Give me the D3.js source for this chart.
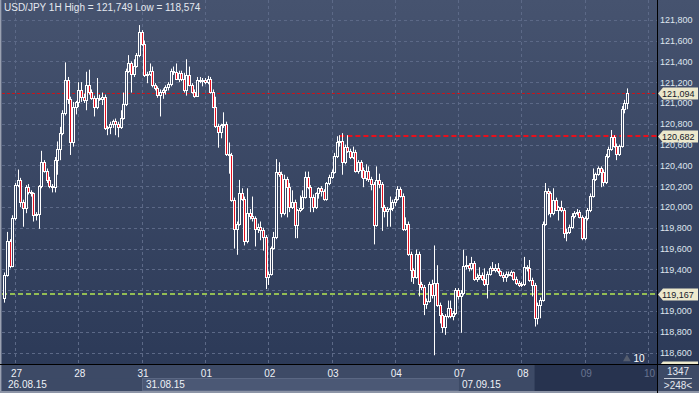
<!DOCTYPE html>
<html>
<head>
<meta charset="utf-8">
<script src="https://cdn.jsdelivr.net/npm/d3@7"></script>
<style>
  html, body { margin: 0; padding: 0; background: #2c3957; overflow: hidden; }
  svg { display: block; font-family: "Liberation Sans", Arial, sans-serif; }
</style>
</head>
<body>
<svg id="chart"></svg>
<script>
// ---- data ----
const symbol = 'USD/JPY';
const timeframe = '1H';
const rangeHigh = 121.749;
const rangeLow = 118.574;

// hour index of the first bar, counted from 27.08 00:00 (24 bars per trading day)
const firstBarHour = -4;

// hourly bars: [open, high, low, close]
const ohlc = [
  // 26.08 (last hours)
  [119.12,119.37,119.08,119.35],[119.35,119.76,119.33,119.67],[119.67,119.69,119.41,119.43],[119.43,119.92,119.42,119.89],
  // 27
  [119.89,120.23,119.87,120.21],[120.21,120.36,120.19,120.26],[120.26,120.28,120.00,120.05],[120.05,120.07,119.81,119.99],
  [119.99,120.21,119.94,120.19],[120.19,120.22,120.12,120.14],[120.14,120.16,120.10,120.13],[120.13,120.14,119.86,119.92],
  [119.92,119.95,119.87,119.93],[119.93,120.21,119.79,120.20],[120.20,120.54,120.18,120.43],[120.43,120.45,120.33,120.35],
  [120.35,120.37,120.23,120.26],[120.26,120.29,120.18,120.20],[120.20,120.22,120.14,120.19],[120.19,120.48,120.14,120.45],
  [120.45,120.63,120.31,120.56],[120.56,120.77,120.45,120.71],[120.71,120.93,120.69,120.90],[120.90,121.39,120.88,121.22],
  [121.22,121.25,120.99,121.04],[121.04,121.06,120.50,120.62],[120.62,121.01,120.58,120.96],[120.96,121.02,120.89,121.01],
  // 28
  [121.01,121.20,120.96,121.12],[121.12,121.20,121.01,121.06],[121.06,121.09,121.00,121.03],[121.03,121.30,120.93,121.17],
  [121.17,121.32,121.08,121.11],[121.11,121.13,121.03,121.05],[121.05,121.07,120.87,120.96],[120.96,121.24,120.94,121.05],
  [121.05,121.08,121.02,121.04],[121.04,121.10,120.98,121.06],[121.06,121.08,120.74,120.76],[120.76,120.78,120.69,120.77],
  [120.77,120.82,120.70,120.80],[120.80,120.84,120.76,120.83],[120.83,120.85,120.69,120.80],[120.80,120.82,120.67,120.77],
  [120.77,120.93,120.75,120.86],[120.86,121.10,120.84,120.99],[120.99,121.33,120.97,121.31],[121.31,121.46,121.29,121.38],
  [121.38,121.40,121.10,121.28],[121.28,121.42,121.25,121.36],[121.36,121.48,121.34,121.46],[121.46,121.749,121.44,121.68],
  // 31
  [121.68,121.70,121.55,121.57],[121.57,121.60,121.25,121.27],[121.27,121.30,121.19,121.28],[121.28,121.38,121.26,121.31],
  [121.31,121.35,121.15,121.17],[121.17,121.19,121.12,121.14],[121.14,121.16,121.05,121.08],[121.08,121.13,120.87,121.11],
  [121.11,121.14,121.04,121.12],[121.12,121.17,121.08,121.15],[121.15,121.20,121.12,121.18],[121.18,121.33,121.16,121.31],
  [121.31,121.35,121.27,121.30],[121.30,121.38,121.22,121.23],[121.23,121.31,121.20,121.29],[121.29,121.31,121.21,121.23],
  [121.23,121.29,121.10,121.12],[121.12,121.42,121.07,121.27],[121.27,121.35,121.16,121.17],[121.17,121.19,121.09,121.11],
  [121.11,121.13,121.05,121.07],[121.07,121.25,121.06,121.22],[121.22,121.25,121.19,121.21],[121.21,121.24,121.16,121.22],
  // 01
  [121.22,121.24,121.18,121.20],[121.20,121.26,121.18,121.23],[121.23,121.25,121.09,121.11],[121.11,121.13,120.95,120.96],
  [120.96,121.06,120.76,120.78],[120.78,120.80,120.57,120.72],[120.72,120.80,120.66,120.79],[120.79,120.91,120.76,120.80],
  [120.80,120.82,120.49,120.51],[120.51,120.62,120.32,120.50],[120.50,120.52,120.05,120.07],[120.07,120.09,119.60,119.79],
  [119.79,119.86,119.54,119.84],[119.84,120.26,119.82,120.13],[120.13,120.18,120.06,120.08],[120.08,120.10,119.63,119.67],
  [119.67,120.18,119.65,119.94],[119.94,119.98,119.88,119.91],[119.91,120.10,119.86,119.89],[119.89,119.91,119.62,119.79],
  [119.79,119.84,119.75,119.81],[119.81,119.86,119.68,119.78],[119.78,119.80,119.58,119.71],[119.71,119.73,119.21,119.33],
  // 02
  [119.33,119.38,119.25,119.36],[119.36,119.62,119.34,119.61],[119.61,119.76,119.59,119.71],[119.71,120.46,119.69,120.34],
  [120.34,120.43,120.29,120.32],[120.32,120.34,119.90,119.94],[119.94,120.31,119.92,120.27],[120.27,120.29,119.90,120.19],
  [120.19,120.23,119.95,120.00],[120.00,120.16,119.98,120.05],[120.05,120.07,119.70,119.83],[119.83,119.98,119.70,119.97],
  [119.97,120.11,119.95,119.99],[119.99,120.16,119.97,120.10],[120.10,120.34,120.08,120.29],[120.29,120.34,120.17,120.19],
  [120.19,120.21,119.95,120.10],[120.10,120.12,119.95,120.00],[120.00,120.14,119.98,120.13],[120.13,120.19,120.08,120.18],
  [120.18,120.20,120.10,120.15],[120.15,120.17,120.06,120.08],[120.08,120.24,120.06,120.23],[120.23,120.31,120.21,120.29],
  // 03
  [120.29,120.36,120.27,120.34],[120.34,120.52,120.32,120.49],[120.49,120.68,120.47,120.62],[120.62,120.69,120.58,120.63],
  [120.63,120.71,120.31,120.43],[120.43,120.60,120.41,120.58],[120.58,120.69,120.52,120.54],[120.54,120.56,120.46,120.48],
  [120.48,120.58,120.46,120.53],[120.53,120.55,120.33,120.35],[120.35,120.45,120.32,120.43],[120.43,120.45,120.28,120.36],
  [120.36,120.38,120.19,120.28],[120.28,120.41,120.25,120.35],[120.35,120.39,120.24,120.27],[120.27,120.29,120.16,120.22],
  [120.22,120.24,119.64,119.83],[119.83,120.39,119.81,120.26],[120.26,120.32,120.18,120.22],[120.22,120.24,119.77,120.00],
  [120.00,120.02,119.90,119.96],[119.96,120.00,119.81,119.98],[119.98,120.10,119.81,119.99],[119.99,120.07,119.96,120.05],
  // 04
  [120.05,120.10,120.01,120.08],[120.08,120.20,120.06,120.17],[120.17,120.19,120.09,120.11],[120.11,120.13,119.77,119.79],
  [119.79,119.90,119.77,119.84],[119.84,119.86,119.53,119.55],[119.55,119.57,119.28,119.39],[119.39,119.41,119.26,119.33],
  [119.33,119.59,119.31,119.55],[119.55,119.57,119.14,119.26],[119.26,119.28,119.20,119.23],[119.23,119.25,118.96,119.07],
  [119.07,119.12,119.02,119.10],[119.10,119.28,119.08,119.26],[119.26,119.30,119.12,119.15],[119.15,119.63,118.574,119.27],
  [119.27,119.44,119.04,119.06],[119.06,119.08,118.88,118.96],[118.96,118.98,118.79,118.85],[118.85,118.97,118.77,118.95],
  [118.95,119.10,118.93,119.03],[119.03,119.10,118.93,118.95],[118.95,119.00,118.91,118.98],[118.98,119.22,118.96,119.20],
  // 07
  [119.20,119.22,119.11,119.14],[119.14,119.20,118.79,119.17],[119.17,119.59,119.15,119.43],[119.43,119.53,119.40,119.44],
  [119.44,119.46,119.38,119.41],[119.41,119.52,119.39,119.46],[119.46,119.48,119.29,119.31],[119.31,119.36,119.28,119.33],
  [119.33,119.42,119.30,119.35],[119.35,119.37,119.29,119.31],[119.31,119.41,119.24,119.26],[119.26,119.38,119.12,119.36],
  [119.36,119.43,119.34,119.41],[119.41,119.47,119.38,119.39],[119.39,119.45,119.37,119.41],[119.41,119.46,119.36,119.38],
  [119.38,119.39,119.33,119.35],[119.35,119.37,119.28,119.33],[119.33,119.38,119.28,119.36],[119.36,119.38,119.33,119.35],
  [119.35,119.39,119.33,119.37],[119.37,119.38,119.29,119.31],[119.31,119.33,119.25,119.27],[119.27,119.29,119.23,119.25],
  // 08
  [119.25,119.28,119.23,119.26],[119.26,119.52,119.24,119.42],[119.42,119.44,119.38,119.41],[119.41,119.49,119.28,119.30],
  [119.30,119.32,119.14,119.25],[119.25,119.27,118.85,118.93],[118.93,119.08,118.87,119.06],[119.06,119.13,118.93,119.11],
  [119.11,119.86,119.09,119.84],[119.84,120.23,119.82,120.15],[120.15,120.18,119.92,120.13],[120.13,120.15,119.90,119.94],
  [119.94,120.18,119.92,120.07],[120.07,120.09,119.96,119.97],[119.97,120.01,119.87,120.00],[120.00,120.06,119.95,119.97],
  [119.97,119.99,119.70,119.75],[119.75,119.79,119.67,119.76],[119.76,119.83,119.74,119.81],[119.81,119.94,119.79,119.91],
  [119.91,119.96,119.89,119.94],[119.94,119.98,119.92,119.95],[119.95,119.97,119.89,119.90],[119.90,119.92,119.68,119.70],
  // 09
  [119.70,119.91,119.68,119.89],[119.89,119.99,119.87,119.97],[119.97,120.13,119.95,120.11],[120.11,120.37,120.09,120.27],
  [120.27,120.33,120.25,120.32],[120.32,120.39,120.30,120.37],[120.37,120.39,120.19,120.34],[120.34,120.36,120.20,120.24],
  [120.24,120.51,120.22,120.49],[120.49,120.58,120.47,120.56],[120.56,120.74,120.54,120.67],[120.67,120.69,120.57,120.59],
  [120.59,120.61,120.45,120.51],[120.51,120.60,120.49,120.59],[120.59,120.97,120.57,120.94],[120.94,121.03,120.90,121.00],
  [121.00,121.14,120.94,121.094]
];

const dayLabels = ['27', '28', '31', '01', '02', '03', '04', '07', '08', '09', '10'];
const weekLabels = ['26.08.15', '31.08.15', '07.09.15'];
const weekStartDay = [-1, 2, 7];          // day index where each week starts
const priceTicks = [118.6, 118.8, 119.0, 119.2, 119.4, 119.6, 119.8, 120.0, 120.2,
                    120.4, 120.6, 120.8, 121.0, 121.2, 121.4, 121.6, 121.8];

const lastPrice = 121.094;
const resistance = 120.682;
const resistanceFromHour = 123;
const support = 119.167;
const lowerTag = 118.462;   // tag mostly hidden under the time axis
const shadeFromHour = 197;
const barsTotal = 1347;
const barsShift = 248;
const shiftMark = '10';

// ---- canvas ----
const width = 699, height = 393;
const plotRight = 657, axisTop = 364;
const fmt = v => d3.format('.3f')(v).replace('.', ',');

const svg = d3.select('#chart').attr('width', width).attr('height', height);
const defs = svg.append('defs');

const grad = defs.append('linearGradient')
    .attr('id', 'bg')
    .attr('gradientUnits', 'userSpaceOnUse')
    .attr('x1', 0).attr('y1', 0).attr('x2', 0).attr('y2', axisTop);
grad.append('stop').attr('offset', 0).attr('stop-color', '#46536f');
grad.append('stop').attr('offset', 1).attr('stop-color', '#2c3a58');

defs.append('clipPath').attr('id', 'plotClip')
    .append('rect').attr('x', 2).attr('y', 0).attr('width', plotRight - 2).attr('height', axisTop);

svg.append('rect').attr('width', width).attr('height', axisTop).attr('fill', 'url(#bg)');

// ---- scales ----
const xScale = d3.scaleLinear().domain([0, 240]).range([15, 648]);
const yScale = d3.scaleLinear().domain([118.49, 121.99]).range([axisTop, 0]);

const bars = ohlc.map((d, i) => ({ t: firstBarHour + i, o: d[0], h: d[1], l: d[2], c: d[3] }));

// ---- grid ----
const grid = svg.append('g')
    .attr('stroke', '#5c6987')
    .attr('stroke-dasharray', '3,3')
    .attr('shape-rendering', 'crispEdges');

grid.selectAll('.hgrid')
    .data(priceTicks)
    .join('line')
    .attr('class', 'hgrid')
    .attr('x1', 2).attr('x2', plotRight)
    .attr('y1', d => Math.round(yScale(d)) + 0.5)
    .attr('y2', d => Math.round(yScale(d)) + 0.5);

grid.selectAll('.vgrid')
    .data(dayLabels)
    .join('line')
    .attr('class', 'vgrid')
    .attr('x1', (d, i) => Math.round(xScale(i * 24)) + 0.5)
    .attr('x2', (d, i) => Math.round(xScale(i * 24)) + 0.5)
    .attr('y1', 0).attr('y2', axisTop);

const plot = svg.append('g').attr('clip-path', 'url(#plotClip)');

// ---- level lines ----
plot.append('line')
    .attr('x1', 2).attr('x2', plotRight)
    .attr('y1', Math.round(yScale(lastPrice)) + 0.5)
    .attr('y2', Math.round(yScale(lastPrice)) + 0.5)
    .attr('stroke', '#c8141c').attr('stroke-width', 1)
    .attr('stroke-dasharray', '3,2');

plot.append('line')
    .attr('x1', xScale(resistanceFromHour)).attr('x2', plotRight)
    .attr('y1', Math.round(yScale(resistance)))
    .attr('y2', Math.round(yScale(resistance)))
    .attr('stroke', '#e8101c').attr('stroke-width', 2)
    .attr('stroke-dasharray', '5,3');

plot.append('line')
    .attr('x1', 2).attr('x2', plotRight)
    .attr('y1', Math.round(yScale(support)))
    .attr('y2', Math.round(yScale(support)))
    .attr('stroke', '#93bd55').attr('stroke-width', 2)
    .attr('stroke-dasharray', '5,3');

// ---- candles ----
const px = d => Math.round(xScale(d.t));
const bodyTop = d => Math.round(yScale(Math.max(d.o, d.c)));
const bodyBot = d => Math.round(yScale(Math.min(d.o, d.c)));

plot.selectAll('.wick')
    .data(bars)
    .join('line')
    .attr('class', 'wick')
    .attr('x1', d => px(d) + 0.5).attr('x2', d => px(d) + 0.5)
    .attr('y1', d => yScale(d.h)).attr('y2', d => yScale(d.l))
    .attr('stroke', '#ffffff').attr('stroke-width', 1);

plot.selectAll('.body')
    .data(bars)
    .join('rect')
    .attr('class', 'body')
    .attr('x', d => px(d) - 0.5)
    .attr('y', d => bodyTop(d) + 0.5)
    .attr('width', 2)
    .attr('height', d => Math.max(bodyBot(d) - bodyTop(d), 0))
    .attr('fill', d => d.c < d.o ? '#e5101f' : 'url(#bg)')
    .attr('stroke', '#ffffff').attr('stroke-width', 1);

// ---- title ----
svg.append('text')
    .attr('x', 4).attr('y', 11)
    .attr('fill', '#e4e8ef')
    .attr('font-size', 10)
    .text(`${symbol} ${timeframe} High = ${fmt(rangeHigh)} Low = ${fmt(rangeLow)}`);

// ---- shift marker ----
svg.append('path')
    .attr('d', d3.symbol(d3.symbolTriangle, 26)())
    .attr('transform', `translate(${xScale(232)}, 359)`)
    .attr('fill', '#555d6e');
svg.append('text')
    .attr('x', 639).attr('y', 362)
    .attr('text-anchor', 'middle')
    .attr('fill', '#ffffff').attr('font-size', 10)
    .text(shiftMark);

// ---- right price axis ----
const tagPrices = [lastPrice, resistance, support];
// labels fully covered by a price tag are not drawn
const hidden = d => tagPrices.some(p => Math.abs(yScale(p) - yScale(d)) < 5);

svg.selectAll('.ylab')
    .data(priceTicks.filter(d => !hidden(d)))
    .join('text')
    .attr('class', 'ylab')
    .attr('x', 660)
    .attr('y', d => yScale(d) + 3.5)
    .attr('fill', '#dfe5ee')
    .attr('font-size', 9)
    .text(d => fmt(d));

const tagShape = cy => `M658,${cy} L663,${cy - 6} L698,${cy - 6} L698,${cy + 6} L663,${cy + 6} Z`;
tagPrices.forEach(price => {
    const cy = Math.round(yScale(price)) + 0.5;
    svg.append('path').attr('d', tagShape(cy)).attr('fill', '#ece8cc');
    svg.append('text')
        .attr('x', 662).attr('y', cy + 3.5)
        .attr('fill', '#15192a').attr('font-size', 9)
        .text(fmt(price));
});
// tag under the time axis: only its top edge shows
svg.append('path').attr('d', tagShape(Math.round(yScale(lowerTag)) + 0.5)).attr('fill', '#ece8cc');

// ---- bottom time axis ----
const axis = svg.append('g');
axis.append('rect')
    .attr('x', 0).attr('y', axisTop).attr('width', width).attr('height', height - axisTop)
    .attr('fill', '#3d4a66');

const weekX = i => Math.max(0, Math.round(xScale(weekStartDay[i] * 24)));
const weekEnd = i => i + 1 < weekStartDay.length ? weekX(i + 1) : xScale(shadeFromHour);
axis.selectAll('.week')
    .data(weekLabels)
    .join('rect')
    .attr('class', 'week')
    .attr('x', (d, i) => weekX(i) + 0.5)
    .attr('y', 378.5)
    .attr('width', (d, i) => weekEnd(i) - weekX(i))
    .attr('height', 12)
    .attr('fill', (d, i) => i % 2 ? '#4b5875' : '#3d4a66')
    .attr('stroke', (d, i) => i % 2 ? '#5a6783' : 'none');

axis.selectAll('.weeklab')
    .data(weekLabels)
    .join('text')
    .attr('class', 'weeklab')
    .attr('x', (d, i) => Math.max(8, weekX(i) + 4))
    .attr('y', 388)
    .attr('fill', '#eef1f6').attr('font-size', 10)
    .text(d => d);

axis.append('rect')
    .attr('x', xScale(shadeFromHour)).attr('y', axisTop)
    .attr('width', plotRight - xScale(shadeFromHour)).attr('height', height - axisTop - 2)
    .attr('fill', '#27334f');

axis.selectAll('.daylab')
    .data(dayLabels)
    .join('text')
    .attr('class', 'daylab')
    .attr('x', (d, i) => xScale(i * 24) + 1.5)
    .attr('y', 377)
    .attr('text-anchor', 'middle')
    .attr('fill', (d, i) => xScale(i * 24) > xScale(shadeFromHour) ? '#67748f' : '#eef1f6')
    .attr('font-size', 10)
    .text(d => d);

// bars counter cell
svg.append('rect')
    .attr('x', plotRight).attr('y', axisTop).attr('width', width - plotRight).attr('height', height - axisTop)
    .attr('fill', '#3d4a66');
svg.append('text')
    .attr('x', 678).attr('y', 375).attr('text-anchor', 'middle')
    .attr('fill', '#e4e8ef').attr('font-size', 10)
    .text(barsTotal);
svg.append('line')
    .attr('x1', 664).attr('x2', 692).attr('y1', 378.5).attr('y2', 378.5)
    .attr('stroke', '#c9cfda');
svg.append('text')
    .attr('x', 678).attr('y', 389).attr('text-anchor', 'middle')
    .attr('fill', '#e4e8ef').attr('font-size', 10)
    .text('>' + barsShift + '<');

// ---- frame ----
svg.append('rect').attr('x', 0).attr('y', 0).attr('width', 1).attr('height', height).attr('fill', '#9aa1b1');
svg.append('rect').attr('x', 1).attr('y', 0).attr('width', 1).attr('height', height).attr('fill', '#626c84');
svg.append('rect').attr('x', 0).attr('y', height - 2).attr('width', width).attr('height', 2).attr('fill', '#8c94a6');
svg.append('line')
    .attr('x1', 0).attr('x2', width).attr('y1', axisTop + 0.5).attr('y2', axisTop + 0.5)
    .attr('stroke', '#000000');
svg.append('line')
    .attr('x1', plotRight + 0.5).attr('x2', plotRight + 0.5).attr('y1', 0).attr('y2', height)
    .attr('stroke', '#000000');
</script>
</body>
</html>
